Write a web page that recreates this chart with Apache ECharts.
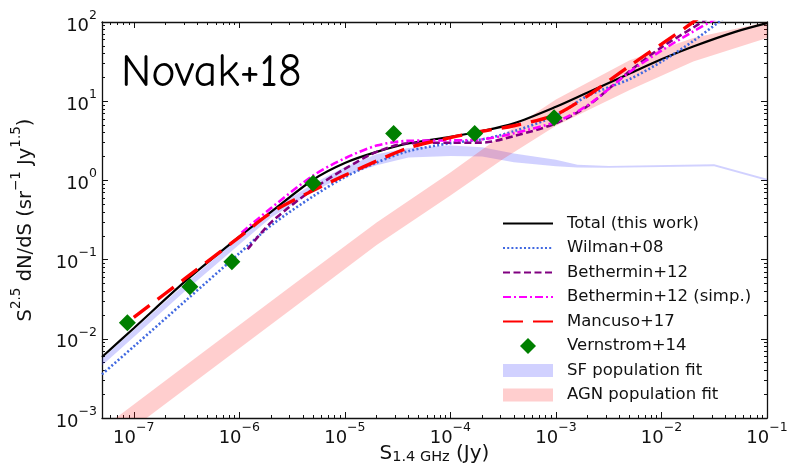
<!DOCTYPE html>
<html>
<head>
<meta charset="utf-8">
<script src="https://cdn.jsdelivr.net/npm/echarts@6/dist/echarts.min.js"></script>
<style>
  html, body { margin: 0; padding: 0; background: #fff; }
  #chart { width: 787px; height: 476px; }
</style>
</head>
<body>
<div id="chart"></div>
<script>
// Euclidean-normalised 1.4 GHz source counts, S^2.5 dN/dS, on log-log axes.

// Axis limits (Jy, sr^-1 Jy^1.5) and decade tick exponents
const xLimits = [5e-8, 0.1];
const yLimits = [1e-3, 1e2];
const xTickExponents = [-7, -6, -5, -4, -3, -2, -1];
const yTickExponents = [-3, -2, -1, 0, 1, 2];

// Total (this work)
const totalFlux = [5e-8, 1e-7, 3.16e-7, 1e-6, 2e-6, 5e-6, 1e-5, 2e-5, 4e-5, 1e-4, 2e-4, 4e-4, 1e-3, 2e-3, 5e-3, 1e-2, 2e-2, 5e-2, 0.1];
const totalCounts = [0.0059, 0.0136, 0.055, 0.195, 0.40, 1.02, 1.66, 2.29, 2.92, 3.55, 4.2, 5.25, 8.5, 12.9, 22.4, 33.9, 49, 75, 96.6];

// Wilman+08
const wilmanFlux = [5e-8, 1e-7, 3.16e-7, 1e-6, 2e-6, 5e-6, 1e-5, 2e-5, 4e-5, 1e-4, 2e-4, 4e-4, 1e-3, 2e-3, 5e-3, 1e-2, 2e-2, 4e-2];
const wilmanCounts = [0.00356, 0.0080, 0.031, 0.12, 0.27, 0.63, 1.1, 1.68, 2.34, 2.95, 3.3, 4.17, 6.6, 11.7, 19, 31.6, 57.5, 115];

// Bethermin+12
const bethFlux = [1.2e-6, 2e-6, 5e-6, 1e-5, 2e-5, 4e-5, 1e-4, 2e-4, 4e-4, 1e-3, 2e-3, 5e-3, 1e-2, 2e-2, 3e-2];
const bethCounts = [0.135, 0.295, 0.776, 1.40, 2.29, 2.95, 2.99, 3.0, 3.63, 5.26, 8.7, 24, 47.9, 85, 120];

// Bethermin+12 (simp.)
const bethSimpFlux = [1.05e-6, 2e-6, 5e-6, 1e-5, 2e-5, 4e-5, 1e-4, 2e-4, 4e-4, 1e-3, 2e-3, 5e-3, 1e-2, 2e-2, 3.5e-2];
const bethSimpCounts = [0.219, 0.447, 1.15, 1.9, 2.75, 3.16, 3.2, 3.3, 3.94, 5.5, 8.9, 23.4, 43.6, 76, 115];

// Mancuso+17
const mancusoFlux = [1e-7, 3.16e-7, 1e-6, 2e-6, 5e-6, 1e-5, 2e-5, 4e-5, 1e-4, 2e-4, 4e-4, 1e-3, 2e-3, 5e-3, 1e-2, 2e-2, 2.8e-2];
const mancusoCounts = [0.0186, 0.0596, 0.192, 0.39, 0.745, 1.16, 1.76, 2.57, 3.47, 4.17, 4.9, 6.8, 11.7, 28, 52.5, 100, 141];

// Vernstrom+14 P(D) points
const vernFlux = [8.7e-8, 3.4e-7, 8.5e-7, 5.0e-6, 2.9e-5, 1.7e-4, 9.6e-4];
const vernCounts = [0.016, 0.0455, 0.094, 0.92, 3.9, 3.9, 6.2];

// SF population fit envelope
const sfFlux = [5e-8, 1e-7, 3.16e-7, 1e-6, 2e-6, 5e-6, 1e-5, 2e-5, 4e-5, 1e-4, 2e-4, 4e-4, 1e-3, 1.6e-3, 3.16e-3, 3.16e-2, 0.1];
const sfLow  = [0.0046, 0.0105, 0.0417, 0.155, 0.34, 0.72, 1.15, 1.55, 1.95, 2.04, 2.0, 1.70, 1.51, 1.45, 1.44, 1.51, 0.99];
const sfHigh = [0.0056, 0.0129, 0.0513, 0.19, 0.42, 0.91, 1.48, 2.14, 2.57, 2.75, 2.63, 2.19, 1.82, 1.58, 1.52, 1.60, 1.05];

// AGN population fit envelope
const agnFlux = [4e-8, 3.16e-7, 3.16e-6, 2e-5, 1e-4, 3.16e-4, 1e-3, 5e-3, 2e-2, 0.1];
const agnLow  = [3.0e-4, 2.4e-3, 0.024, 0.153, 0.646, 1.86, 4.9, 13.8, 31.6, 63];
const agnHigh = [5.9e-4, 4.7e-3, 0.047, 0.295, 1.26, 3.8, 10.5, 33, 63, 100];

const FONT = 'DejaVu Sans';
const lg = Math.log10;
const pairs = (xs, ys) => xs.map((x, i) => [lg(x), lg(ys[i])]);
const triples = (xs, lo, hi) => xs.map((x, i) => [lg(x), lg(lo[i]), lg(hi[i])]);

function minorTicks(lo, hi) {
  const out = [];
  for (let n = Math.floor(lo) - 1; n <= Math.ceil(hi); n++) {
    for (let k = 2; k <= 9; k++) {
      const v = n + lg(k);
      if (v > lo + 1e-9 && v < hi - 1e-9) out.push(v);
    }
  }
  return out;
}

const xMin = lg(xLimits[0]), xMax = lg(xLimits[1]);
const yMin = lg(yLimits[0]), yMax = lg(yLimits[1]);
const xMinor = minorTicks(xMin, xMax);
const yMinor = minorTicks(yMin, yMax);

const powerLabel = v => '{b|10}{s|' + String(Math.round(v)).replace('-', '\u2212') + '}';
const tickRich = {
  b: { fontFamily: FONT, fontSize: 18, lineHeight: 26, verticalAlign: 'bottom', color: '#111' },
  s: { fontFamily: FONT, fontSize: 12.5, lineHeight: 12.5, verticalAlign: 'top', color: '#111' }
};
const frameLine = { show: true, onZero: false, lineStyle: { color: '#111', width: 1.3 } };
const tickLine = { color: '#111', width: 1 };

function makeAxis(position, ticks, len, opts) {
  const horizontal = position === 'bottom' || position === 'top';
  return Object.assign({
    type: 'value', position: position, gridIndex: 0,
    min: horizontal ? xMin : yMin,
    max: horizontal ? xMax : yMax,
    axisLine: { show: false, onZero: false },
    splitLine: { show: false },
    axisTick: { show: true, inside: true, length: len, customValues: ticks, lineStyle: tickLine },
    axisLabel: { show: false },
    axisPointer: { show: false }
  }, opts || {});
}

// Filled envelope between the low (dim 1) and high (dim 2) edges
function envelope(params, api) {
  if (params.dataIndex !== 0) return null;
  const n = params.dataInsideLength;
  const upper = [], lower = [];
  for (let i = 0; i < n; i++) {
    upper.push(api.coord([api.value(0, i), api.value(2, i)]));
    lower.push(api.coord([api.value(0, i), api.value(1, i)]));
  }
  const cs = params.coordSys;
  return {
    type: 'polygon',
    shape: { points: upper.concat(lower.reverse()) },
    style: { fill: api.visual('color') },
    clipPath: { type: 'rect', shape: { x: cs.x, y: cs.y, width: cs.width, height: cs.height } }
  };
}

const SF_FILL = 'rgba(40, 40, 255, 0.21)';
const AGN_FILL = 'rgba(255, 30, 30, 0.22)';
const DIAMOND_ICON = 'path://M0,-1L1,0L0,1L-1,0Z';
const BAND_ICON = 'path://M0,0H50V13H0Z';

const option = {
  animation: false,
  backgroundColor: '#fff',
  grid: { left: 102, right: 20, top: 22, bottom: 58, containLabel: false, outerBoundsMode: 'none' },
  xAxis: [
    makeAxis('bottom', xTickExponents, 6, {
      axisLine: frameLine,
      axisLabel: { show: true, customValues: xTickExponents, margin: 3, formatter: powerLabel, rich: tickRich },
      name: '{m|S}{sub|1.4 GHz}{m| (Jy)}',
      nameLocation: 'middle', nameGap: 26, nameMoveOverlap: false,
      nameTextStyle: { rich: {
        m: { fontFamily: FONT, fontSize: 20, lineHeight: 21, verticalAlign: 'top', color: '#111' },
        sub: { fontFamily: FONT, fontSize: 14.5, lineHeight: 15, padding: [13, 0, 0, 0], verticalAlign: 'bottom', color: '#111' }
      } }
    }),
    makeAxis('bottom', xMinor, 3),
    makeAxis('top', xTickExponents, 6, { axisLine: frameLine }),
    makeAxis('top', xMinor, 3)
  ],
  yAxis: [
    makeAxis('left', yTickExponents, 6, {
      axisLine: frameLine,
      axisLabel: { show: true, customValues: yTickExponents, margin: 5, formatter: powerLabel, rich: tickRich },
      name: '{m|S}{sup|2.5}{m| dN/dS (sr}{sup|\u22121}{m| Jy}{sup|1.5}{m|)}',
      nameLocation: 'middle', nameRotate: 90, nameGap: 66, nameMoveOverlap: false,
      nameTextStyle: { rich: {
        m: { fontFamily: FONT, fontSize: 19.5, lineHeight: 27, verticalAlign: 'bottom', color: '#111' },
        sup: { fontFamily: FONT, fontSize: 13.5, lineHeight: 13.5, verticalAlign: 'top', color: '#111' }
      } }
    }),
    makeAxis('left', yMinor, 3),
    makeAxis('right', yTickExponents, 6, { axisLine: frameLine }),
    makeAxis('right', yMinor, 3)
  ],
  legend: {
    orient: 'vertical', left: 502, top: 215, padding: 0,
    itemWidth: 50, itemHeight: 16, itemGap: 7.5,
    selectedMode: false, symbolKeepAspect: true,
    itemStyle: { opacity: 0 },
    textStyle: { fontFamily: FONT, fontSize: 16.5, color: '#111', padding: [0, 0, 0, 9] },
    data: [
      'Total (this work)', 'Wilman+08', 'Bethermin+12', 'Bethermin+12 (simp.)', 'Mancuso+17',
      { name: 'Vernstrom+14', icon: DIAMOND_ICON, itemStyle: { color: '#008000', opacity: 1 } },
      { name: 'SF population fit', icon: BAND_ICON, itemStyle: { color: SF_FILL, opacity: 1, borderWidth: 0 } },
      { name: 'AGN population fit', icon: BAND_ICON, itemStyle: { color: AGN_FILL, opacity: 1, borderWidth: 0 } }
    ]
  },
  graphic: [
    { type: 'text', left: 121, top: 50, z: 100,
      style: { text: 'Novak+18', font: '46px "Comic Sans MS", "Comic Neue", Lato, sans-serif', fill: '#000' } }
  ],
  series: [
    { name: 'SF population fit', type: 'custom', renderItem: envelope,
      data: triples(sfFlux, sfLow, sfHigh), encode: { x: 0, y: [1, 2] },
      itemStyle: { color: SF_FILL }, silent: true, z: 1 },
    { name: 'AGN population fit', type: 'custom', renderItem: envelope,
      data: triples(agnFlux, agnLow, agnHigh), encode: { x: 0, y: [1, 2] },
      itemStyle: { color: AGN_FILL }, silent: true, z: 1 },

    { name: 'Total (this work)', type: 'line', smooth: 0.3, data: pairs(totalFlux, totalCounts),
      symbol: 'none', itemStyle: { color: '#000' }, lineStyle: { color: '#000', width: 2.2 }, z: 3 },
    { name: 'Wilman+08', type: 'line', smooth: 0.3, data: pairs(wilmanFlux, wilmanCounts),
      symbol: 'none', itemStyle: { color: '#4169e1' },
      lineStyle: { color: '#4169e1', width: 2.6, type: [2, 2.2] }, z: 3 },
    { name: 'Bethermin+12', type: 'line', smooth: 0.3, data: pairs(bethFlux, bethCounts),
      symbol: 'none', itemStyle: { color: '#800080' },
      lineStyle: { color: '#800080', width: 2.6, type: [7, 3.5] }, z: 3 },
    { name: 'Bethermin+12 (simp.)', type: 'line', smooth: 0.3, data: pairs(bethSimpFlux, bethSimpCounts),
      symbol: 'none', itemStyle: { color: '#ff00ff' },
      lineStyle: { color: '#ff00ff', width: 2.6, type: [8, 3, 2, 3] }, z: 3 },
    { name: 'Mancuso+17', type: 'line', smooth: 0.3, data: pairs(mancusoFlux, mancusoCounts),
      symbol: 'none', itemStyle: { color: '#ff0000' },
      lineStyle: { color: '#ff0000', width: 3.4, type: [20, 10] }, z: 3 },
    { name: 'Vernstrom+14', type: 'scatter', data: pairs(vernFlux, vernCounts),
      symbol: 'diamond', symbolSize: 17, itemStyle: { color: '#008000', opacity: 1 }, z: 4 }
  ]
};

const chart = echarts.init(document.getElementById('chart'));
chart.setOption(option);
</script>
</body>
</html>
